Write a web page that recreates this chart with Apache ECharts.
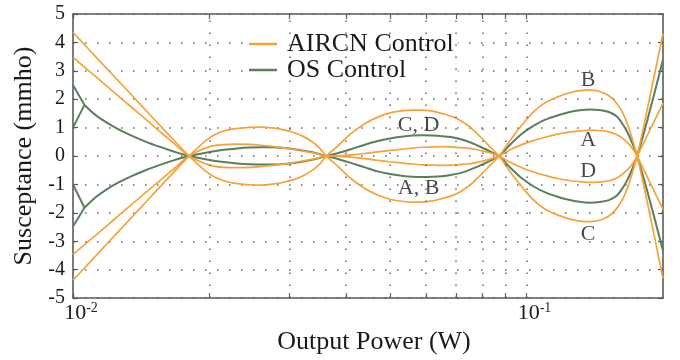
<!DOCTYPE html>
<html><head><meta charset="utf-8">
<script src="https://cdn.jsdelivr.net/npm/echarts@6/dist/echarts.min.js"></script>
<style>html,body{margin:0;padding:0;background:#fff}#c{width:680px;height:360px}</style>
</head><body><div id="c"></div>
<script>
// Output power samples (W)
const xs = [
  0.01, 0.0106, 0.0112, 0.0118, 0.0126, 0.0135, 0.0145, 0.0155, 0.0166, 0.01803,
  0.020, 0.0215, 0.023, 0.0245, 0.026, 0.0275, 0.029, 0.0305, 0.032, 0.0335, 0.0349, 0.0362,
  0.0385, 0.041, 0.044, 0.047, 0.050, 0.053, 0.056, 0.059, 0.062, 0.065, 0.068, 0.071, 0.074, 0.077, 0.080, 0.0835, 0.087,
  0.092, 0.098, 0.104, 0.110, 0.117, 0.124, 0.131, 0.138, 0.145, 0.152, 0.158, 0.163, 0.167, 0.1715, 0.1754,
  0.185, 0.2];
// AIRCN Control curves (mmho)
const curveA = [
  -3.46, -3.12, -2.80, -2.49, -2.10, -1.69, -1.27, -0.88, -0.48, 0,
  0.33, 0.40, 0.42, 0.41, 0.38, 0.34, 0.29, 0.24, 0.18, 0.12, 0.06, 0,
  -0.01, -0.04, -0.09, -0.15, -0.20, -0.24, -0.28, -0.31, -0.32, -0.33, -0.32, -0.30, -0.28, -0.24, -0.18, -0.10, 0,
  0.22, 0.41, 0.55, 0.66, 0.77, 0.84, 0.88, 0.91, 0.90, 0.85, 0.76, 0.62, 0.47, 0.25, 0,
  -0.76, -1.88];
const curveB = [
  -4.37, -3.94, -3.53, -3.14, -2.65, -2.14, -1.61, -1.11, -0.60, 0,
  0.64, 0.88, 0.97, 1.01, 1.02, 0.99, 0.93, 0.84, 0.71, 0.53, 0.30, 0,
  -0.38, -0.79, -1.14, -1.37, -1.52, -1.59, -1.62, -1.62, -1.58, -1.50, -1.41, -1.28, -1.10, -0.86, -0.60, -0.29, 0,
  0.55, 1.12, 1.58, 1.88, 2.08, 2.22, 2.30, 2.33, 2.27, 2.12, 1.86, 1.52, 1.13, 0.55, 0,
  -1.68, -4.31];
const curveC = [
  4.35, 3.92, 3.51, 3.12, 2.64, 2.13, 1.60, 1.10, 0.60, 0,
  -0.63, -0.87, -0.97, -1.01, -1.02, -0.99, -0.93, -0.84, -0.71, -0.53, -0.30, 0,
  0.38, 0.79, 1.14, 1.37, 1.52, 1.59, 1.62, 1.62, 1.58, 1.50, 1.41, 1.28, 1.10, 0.86, 0.60, 0.29, 0,
  -0.55, -1.11, -1.57, -1.87, -2.07, -2.21, -2.29, -2.31, -2.26, -2.11, -1.85, -1.51, -1.12, -0.55, 0,
  1.70, 4.32];
const curveD = [
  3.48, 3.13, 2.81, 2.50, 2.11, 1.70, 1.28, 0.88, 0.48, 0,
  -0.32, -0.40, -0.41, -0.40, -0.37, -0.33, -0.29, -0.24, -0.18, -0.12, -0.06, 0,
  0.01, 0.04, 0.09, 0.15, 0.20, 0.24, 0.28, 0.31, 0.32, 0.33, 0.32, 0.30, 0.28, 0.24, 0.18, 0.10, 0,
  -0.22, -0.42, -0.57, -0.68, -0.79, -0.86, -0.90, -0.93, -0.92, -0.87, -0.78, -0.63, -0.48, -0.26, 0,
  0.75, 1.86];
// OS Control curves (mmho); first sample given by the two left branches below
const osUpper = [
  null, 1.80, 1.45, 1.20, 0.94, 0.71, 0.50, 0.33, 0.17, 0,
  -0.14, -0.21, -0.26, -0.29, -0.30, -0.30, -0.28, -0.25, -0.20, -0.14, -0.07, 0,
  0.11, 0.24, 0.40, 0.53, 0.62, 0.68, 0.72, 0.73, 0.72, 0.70, 0.67, 0.61, 0.52, 0.41, 0.29, 0.15, 0,
  -0.40, -0.80, -1.08, -1.28, -1.43, -1.54, -1.61, -1.64, -1.62, -1.55, -1.40, -1.12, -0.83, -0.42, 0,
  1.30, 3.39];
const osLower = [
  null, -1.82, -1.46, -1.20, -0.93, -0.70, -0.49, -0.32, -0.16, 0,
  0.14, 0.22, 0.27, 0.30, 0.31, 0.31, 0.29, 0.25, 0.20, 0.14, 0.07, 0,
  -0.11, -0.24, -0.40, -0.54, -0.63, -0.69, -0.73, -0.74, -0.73, -0.71, -0.67, -0.61, -0.52, -0.41, -0.29, -0.15, 0,
  0.40, 0.80, 1.08, 1.28, 1.43, 1.54, 1.61, 1.64, 1.62, 1.55, 1.40, 1.12, 0.83, 0.42, 0,
  -1.28, -3.33];
// OS Control left branches at 10^-2 (each meets its curve at xs[1])
const osUpperStart = [2.50, 1.00];
const osLowerStart = [-2.48, -1.00];
// axis ticks
const xGridTicks = [0.01, 0.02, 0.03, 0.04, 0.05, 0.06, 0.07, 0.08, 0.09, 0.1];
const yMin = -5, yMax = 5, yStep = 1;

const ORANGE = '#F6A23A', GREEN = '#5B7E5C';
const FONT = 'Liberation Serif';
const TXT = '#1a1a1a';
const AX = '#5a5a5a';
const dotted = { color: '#666', width: 1.5, type: [1.5, 10.5] };

function pairs(ys) { return xs.map((x, i) => [x, ys[i]]); }
function mk(name, data, color, w, z) {
  return { type: 'line', name, data, smooth: 0.3, symbol: 'none', showSymbol: false,
    connectNulls: false, lineStyle: { color, width: w }, itemStyle: { color }, z, silent: true, animation: false };
}
const series = [];
// vertical dotted grid drawn as mark lines at the x grid values
series.push({
  type: 'line', name: 'grid', data: [], silent: true, z: 1, animation: false,
  markLine: {
    silent: true, symbol: ['none', 'none'], label: { show: false }, animation: false,
    lineStyle: dotted, emphasis: { disabled: true },
    data: xGridTicks.slice(1).map(v => ({ xAxis: v }))
  }
});
series.push(mk('OS Control', pairs(osUpper), GREEN, 2, 3));
series.push(mk('OS Control', pairs(osLower), GREEN, 2, 3));
osUpperStart.forEach(v => series.push(mk('OS Control', [[xs[0], v], [xs[1], osUpper[1]]], GREEN, 2, 3)));
osLowerStart.forEach(v => series.push(mk('OS Control', [[xs[0], v], [xs[1], osLower[1]]], GREEN, 2, 3)));
[curveA, curveB, curveC, curveD].forEach(c => series.push(mk('AIRCN Control', pairs(c), ORANGE, 1.7, 4)));
series.push({
  type: 'scatter', name: 'notes', symbolSize: 1, itemStyle: { color: 'rgba(0,0,0,0)' }, z: 6, silent: true,
  label: { show: true, position: 'inside', formatter: '{b}', fontFamily: FONT, fontSize: 22, color: TXT },
  data: [
    { name: 'C, D', value: [0.0578, 1.07] },
    { name: 'A, B', value: [0.0578, -1.12] },
    { name: 'B', value: [0.1368, 2.66] },
    { name: 'A', value: [0.1368, 0.55] },
    { name: 'D', value: [0.1368, -0.52] },
    { name: 'C', value: [0.1368, -2.74] }
  ]
});

function xFmt(v) {
  const e = Math.round(Math.log10(v));
  if (Math.abs(Math.pow(10, e) - v) / v < 1e-6) return '{b|10}{s|' + e + '}';
  return '';
}

const chart = echarts.init(document.getElementById('c'), null, { renderer: 'canvas' });
chart.setOption({
  animation: false,
  backgroundColor: '#fff',
  grid: { left: 73, right: 17, top: 14, bottom: 41, containLabel: false },
  legend: {
    data: ['AIRCN Control', 'OS Control'], orient: 'vertical', left: 245, top: 27,
    icon: 'rect', itemWidth: 28, itemHeight: 2.5, itemGap: 0, padding: [4, 4, 4, 4], backgroundColor: '#fff',
    textStyle: { fontFamily: FONT, fontSize: 26, color: TXT, lineHeight: 26, padding: [0, 0, 0, 5] },
    z: 5
  },
  xAxis: [{
    type: 'log', logBase: 10, min: 0.01, max: 0.2, position: 'bottom',
    name: 'Output Power (W)', nameLocation: 'middle', nameGap: 6,
    nameTextStyle: { fontFamily: FONT, fontSize: 26, color: TXT, verticalAlign: 'top', padding: [0, 0, 0, 12] },
    axisLine: { show: true, onZero: false, lineStyle: { color: AX, width: 1.6 } },
    axisTick: { show: true, inside: true, length: 5, customValues: xGridTicks, lineStyle: { color: AX, width: 1.2 } },
    axisLabel: { show: true, margin: 3, formatter: xFmt, padding: [0, 0, 0, 16],
      rich: { b: { fontFamily: FONT, fontSize: 22, color: TXT, lineHeight: 24 },
              s: { fontFamily: FONT, fontSize: 14, color: TXT, lineHeight: 14, verticalAlign: 'top' } } },
    splitLine: { show: false }
  }, {
    type: 'log', logBase: 10, min: 0.01, max: 0.2, position: 'top',
    axisLine: { show: true, onZero: false, lineStyle: { color: AX, width: 1.6 } },
    axisTick: { show: true, inside: true, length: 5, customValues: xGridTicks, lineStyle: { color: AX, width: 1.2 } },
    axisLabel: { show: false }, splitLine: { show: false }
  }],
  yAxis: [{
    type: 'value', min: yMin, max: yMax, interval: yStep, position: 'left',
    name: 'Susceptance (mmho)', nameLocation: 'middle', nameGap: 36,
    nameTextStyle: { fontFamily: FONT, fontSize: 26, color: TXT },
    axisLine: { show: true, lineStyle: { color: AX, width: 1.6 } },
    axisTick: { show: true, inside: true, length: 5, lineStyle: { color: AX, width: 1.2 } },
    axisLabel: { fontFamily: FONT, fontSize: 20, color: TXT, margin: 8 },
    splitLine: { show: true, lineStyle: dotted }
  }, {
    type: 'value', min: yMin, max: yMax, interval: yStep, position: 'right',
    axisLine: { show: true, lineStyle: { color: AX, width: 1.6 } },
    axisTick: { show: true, inside: true, length: 5, lineStyle: { color: AX, width: 1.2 } },
    axisLabel: { show: false }, splitLine: { show: false }
  }],
  series
});
</script></body></html>
